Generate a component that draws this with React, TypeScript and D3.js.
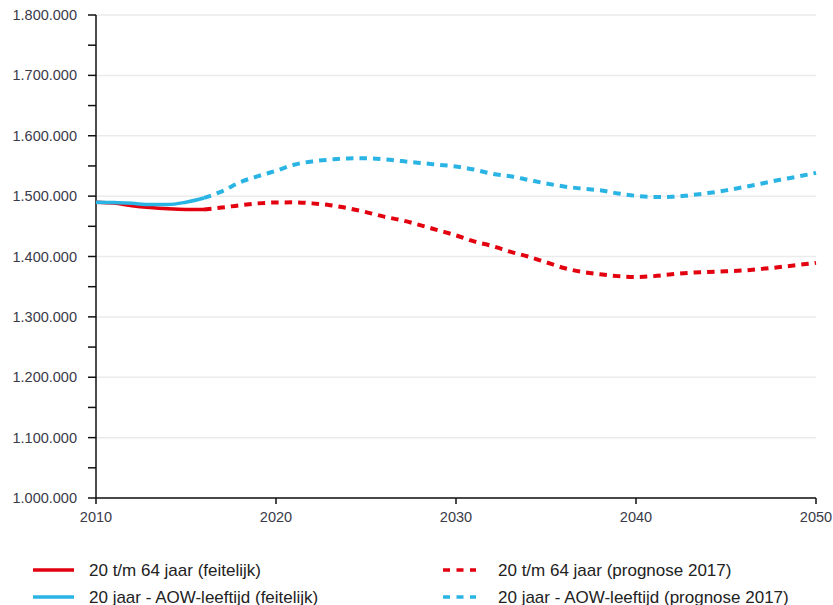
import React from "react";
import * as d3 from "d3";

const yearsActual = [2010, 2011, 2012, 2013, 2014, 2015, 2016];
const redActual = [1490000, 1488500, 1484000, 1481000, 1479000, 1478000, 1478000];
const blueActual = [1490000, 1489500, 1488000, 1486000, 1486000, 1490000, 1497000];

const yearsForecast = d3.range(2016, 2051);
const redForecast = [
  1478000, 1481000, 1485000, 1488000, 1489500, 1489700, 1488000, 1485000, 1480000, 1473500,
  1466000, 1460000, 1452000, 1443500, 1435000, 1425000, 1417500, 1408000, 1400000, 1390500,
  1381000, 1374500, 1370500, 1367500, 1366000, 1367500, 1370500, 1373000, 1374500, 1375500,
  1377000, 1379500, 1382500, 1386000, 1389500,
];
const blueForecast = [
  1497000, 1508000, 1523000, 1533000, 1542000, 1552000, 1557500, 1560500, 1562500, 1562600,
  1561000, 1558000, 1555000, 1552000, 1549000, 1544000, 1537000, 1533000, 1527000, 1521000,
  1516000, 1512500, 1509600, 1504500, 1500500, 1498600, 1498800, 1501500, 1505000, 1509500,
  1515000, 1521000, 1527000, 1532500, 1538500,
];

const xTicks = [2010, 2020, 2030, 2040, 2050];
const yMajor = [1000000, 1100000, 1200000, 1300000, 1400000, 1500000, 1600000, 1700000, 1800000];
const yMinor = [1050000, 1150000, 1250000, 1350000, 1450000, 1550000, 1650000, 1750000];

const legendItems = [
  { label: "20 t/m 64 jaar (feitelijk)", color: "#e3000f", dashed: false },
  { label: "20 jaar - AOW-leeftijd (feitelijk)", color: "#2ab4e4", dashed: false },
  { label: "20 t/m 64 jaar (prognose 2017)", color: "#e3000f", dashed: true },
  { label: "20 jaar - AOW-leeftijd (prognose 2017)", color: "#2ab4e4", dashed: true },
];

const RED = "#e3000f";
const BLUE = "#2ab4e4";
const FONT = "'Liberation Sans', Arial, sans-serif";

export default function App() {
  const W = 833;
  const H = 605;
  const x = d3.scaleLinear().domain([2010, 2050]).range([96, 816]);
  const y = d3.scaleLinear().domain([1000000, 1800000]).range([498, 15]);
  const fmt = (v: number) => d3.format(",")(v).replace(/,/g, ".");

  const line = (xs: number[], vs: number[]) =>
    d3
      .line<number>()
      .x((_, i) => x(xs[i]))
      .y((v) => y(v))
      .curve(d3.curveMonotoneX)(vs) || "";

  return (
    <svg
      width={W}
      height={H}
      style={{ position: "absolute", left: 0, top: 0, background: "#fff" }}
      fontFamily={FONT}
    >
      {yMajor.map((v) => (
        <line key={"g" + v} x1={96} x2={816} y1={y(v)} y2={y(v)} stroke="#ebebeb" strokeWidth={1.5} />
      ))}
      {yMajor.concat(yMinor).map((v) => (
        <line key={"t" + v} x1={88} x2={96} y1={y(v)} y2={y(v)} stroke="#111" strokeWidth={1.5} />
      ))}
      {yMajor.map((v) => (
        <text key={"l" + v} x={77} y={y(v) + 5} textAnchor="end" fontSize={14.5} fill="#3a3a4a">
          {fmt(v)}
        </text>
      ))}
      {xTicks.map((t) => (
        <g key={"x" + t}>
          <line x1={x(t)} x2={x(t)} y1={498} y2={504} stroke="#111" strokeWidth={1.5} />
          <text x={x(t)} y={522} textAnchor="middle" fontSize={14.5} fill="#3a3a4a">
            {t}
          </text>
        </g>
      ))}
      <line x1={96} x2={96} y1={15} y2={498} stroke="#111" strokeWidth={1.5} />
      <line x1={96} x2={816} y1={498} y2={498} stroke="#111" strokeWidth={1.5} />

      <path d={line(yearsForecast, redForecast)} fill="none" stroke={RED} strokeWidth={4} strokeDasharray="7.5 6" />
      <path d={line(yearsForecast, blueForecast)} fill="none" stroke={BLUE} strokeWidth={4} strokeDasharray="7.5 6" />
      <path d={line(yearsActual, redActual)} fill="none" stroke={RED} strokeWidth={3.5} />
      <path d={line(yearsActual, blueActual)} fill="none" stroke={BLUE} strokeWidth={3.5} />

      {legendItems.map((it, i) => {
        const col = Math.floor(i / 2);
        const row = i % 2;
        const lx = col === 0 ? 33 : 443;
        const lx2 = col === 0 ? 74 : 476;
        const tx = col === 0 ? 89 : 498;
        const ly = 570 + row * 27;
        return (
          <g key={"lg" + i}>
            <line
              x1={lx}
              x2={lx2}
              y1={ly}
              y2={ly}
              stroke={it.color}
              strokeWidth={3.5}
              strokeDasharray={it.dashed ? "7 6.5" : undefined}
            />
            <text x={tx} y={ly + 6} fontSize={17} fill="#222">
              {it.label}
            </text>
          </g>
        );
      })}
    </svg>
  );
}
